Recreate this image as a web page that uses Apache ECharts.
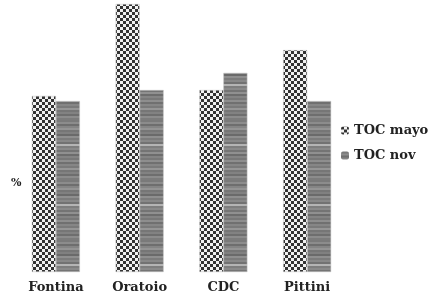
<!DOCTYPE html>
<html><head><meta charset="utf-8">
<script src="https://cdn.jsdelivr.net/npm/echarts@6/dist/echarts.min.js"></script>
<style>html,body{margin:0;padding:0;background:#fff}#c{width:434px;height:298px}</style>
</head><body><div id="c"></div>
<script>
const categories = ['Fontina', 'Oratoio', 'CDC', 'Pittini'];
const seriesNames = ['TOC mayo', 'TOC nov'];
const tocMayo = [65.7, 100, 67.9, 82.8];
const tocNov = [63.8, 67.9, 74.3, 63.8];

function checker() {
  const c = document.createElement('canvas'); c.width = 6; c.height = 6;
  const g = c.getContext('2d');
  g.fillStyle = '#f2f2f2'; g.fillRect(0,0,6,6);
  g.fillStyle = '#333333'; g.fillRect(0,0,3,3); g.fillRect(3,3,3,3);
  return c;
}
function stripes() {
  const greys = ['#7a7a7a','#8c8c8c','#6e6e6e','#858585','#949494','#767676','#808080','#6a6a6a','#8f8f8f','#7c7c7c','#888888','#727272','#b4b4b4','#7e7e7e','#8a8a8a','#747474','#909090','#6c6c6c','#848484','#787878','#8e8e8e','#707070','#868686','#7a7a7a','#969696','#767676','#828282','#6e6e6e','#8c8c8c','#7c7c7c'];
  const c = document.createElement('canvas'); c.width = 4; c.height = greys.length * 2;
  const g = c.getContext('2d');
  greys.forEach((col, i) => { g.fillStyle = col; g.fillRect(0, i*2, 4, 2); });
  return c;
}

const chart = echarts.init(document.getElementById('c'));
chart.setOption({
  animation: false,
  backgroundColor: '#fff',
  title: { text: '%', left: 6, top: 173, textStyle: { fontFamily: 'DejaVu Serif', fontWeight: 'bold', fontSize: 11, color: '#222' } },
  grid: { left: 14, right: 85, top: 4, bottom: 26 },
  legend: {
    orient: 'vertical', left: 336, top: 119, itemWidth: 8, itemHeight: 8, itemGap: 12, itemStyle: { borderWidth: 0 },
    textStyle: { fontFamily: 'DejaVu Serif', fontWeight: 'bold', fontSize: 13, color: '#222' },
    data: seriesNames
  },
  xAxis: {
    type: 'category', data: categories,
    axisLine: { show: false }, axisTick: { show: false },
    axisLabel: { margin: 9, fontFamily: 'DejaVu Serif', fontWeight: 'bold', fontSize: 13, color: '#222' }
  },
  yAxis: { type: 'value', min: 0, max: 100, show: false, splitLine: { show: false } },
  series: [
    { name: seriesNames[0], type: 'bar', data: tocMayo, barWidth: 24, barGap: '0%',
      itemStyle: { color: { image: checker(), repeat: 'repeat' }, borderColor: '#c4c4c4', borderWidth: 0.5 } },
    { name: seriesNames[1], type: 'bar', data: tocNov, barWidth: 24,
      itemStyle: { color: { image: stripes(), repeat: 'repeat' }, borderColor: '#c4c4c4', borderWidth: 0.5 } }
  ]
});
</script></body></html>
